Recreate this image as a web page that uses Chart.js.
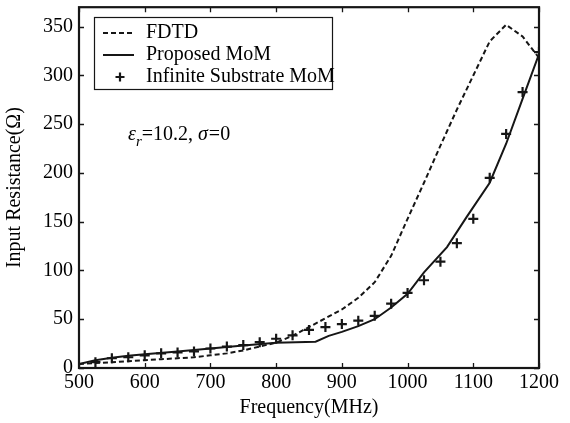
<!DOCTYPE html>
<html>
<head>
<meta charset="utf-8">
<script src="https://cdn.jsdelivr.net/npm/chart.js@4.4.1/dist/chart.umd.min.js"></script>
<style>
    html, body { margin: 0; padding: 0; background: #fff; }
    #wrap { width: 570px; height: 423px; }
</style>
</head>
<body>
<div id="wrap"><canvas id="chart" width="570" height="423"></canvas></div>
<script>
// FDTD result (dashed)
const fdtdFreq = [500, 525, 550, 575, 600, 625, 650, 675, 700, 725, 750, 775, 800, 825, 850, 875, 900, 925, 950, 975, 1000, 1025, 1050, 1075, 1100, 1125, 1150, 1175, 1200];
const fdtdValues = [4, 5, 6, 7, 8, 9, 10, 11, 13, 15, 18, 22, 26, 33, 42, 51, 60, 72, 88, 115, 153, 190, 228, 265, 300, 335, 352, 340, 318];

// Proposed MoM (solid)
const momFreq = [500, 525, 550, 575, 600, 650, 700, 750, 800, 830, 860, 880, 900, 925, 950, 975, 1000, 1025, 1060, 1090, 1125, 1150, 1175, 1200];
const momValues = [4, 8, 10.5, 12.5, 14, 17, 20, 23, 26, 26.5, 27, 33, 37, 43, 50, 62, 76, 98, 124, 155, 190, 230, 276, 322];

// Infinite substrate MoM (plus markers)
const infFreq = [525, 550, 575, 600, 625, 650, 675, 700, 725, 750, 775, 800, 825, 850, 875, 900, 925, 950, 975, 1000, 1025, 1050, 1075, 1100, 1125, 1150, 1175, 1200];
const infValues = [6, 10, 11, 13, 15, 16, 17, 20, 22, 23.5, 26.5, 30, 33.5, 39, 42, 45, 48.5, 53.5, 66, 77, 90, 109, 128, 153, 195, 240, 283, 324];

const xTicks = [500, 600, 700, 800, 900, 1000, 1100, 1200];
const yTicks = [0, 50, 100, 150, 200, 250, 300, 350];
const legendLabels = ['FDTD', 'Proposed MoM', 'Infinite Substrate MoM'];

const FONT = "'Liberation Serif', 'Times New Roman', serif";
const INK = '#161616';

function toPoints(xs, ys) {
    return xs.map((x, i) => ({ x: x, y: ys[i] }));
}

// Box, inward ticks, legend and the text note
const decorPlugin = {
    id: 'decor',
    afterDraw(chart) {
        const ctx = chart.ctx;
        const area = chart.chartArea;
        const xs = chart.scales.x;
        const ys = chart.scales.y;
        const tick = 5;

        ctx.save();
        ctx.strokeStyle = INK;
        ctx.lineWidth = 1.3;
        ctx.beginPath();
        xTicks.forEach(v => {
            const px = Math.round(xs.getPixelForValue(v)) + 0.5;
            ctx.moveTo(px, area.bottom); ctx.lineTo(px, area.bottom - tick);
            ctx.moveTo(px, area.top); ctx.lineTo(px, area.top + tick);
        });
        yTicks.forEach(v => {
            const py = Math.round(ys.getPixelForValue(v)) + 0.5;
            ctx.moveTo(area.left, py); ctx.lineTo(area.left + tick, py);
            ctx.moveTo(area.right, py); ctx.lineTo(area.right - tick, py);
        });
        ctx.stroke();

        ctx.lineWidth = 2.2;
        ctx.strokeRect(area.left, area.top, area.right - area.left, area.bottom - area.top);

        // legend
        const lx = 94, ly = 17, lw = 238, lh = 72;
        ctx.fillStyle = '#fff';
        ctx.fillRect(lx, ly, lw, lh);
        ctx.lineWidth = 1.2;
        ctx.strokeRect(lx + 0.5, ly + 0.5, lw, lh);

        const rows = [33, 55, 77];
        ctx.lineWidth = 2;
        ctx.setLineDash([5, 3]);
        ctx.beginPath(); ctx.moveTo(103, rows[0]); ctx.lineTo(134, rows[0]); ctx.stroke();
        ctx.setLineDash([]);
        ctx.lineWidth = 2;
        ctx.beginPath(); ctx.moveTo(103, rows[1]); ctx.lineTo(134, rows[1]); ctx.stroke();
        ctx.lineWidth = 2.2;
        ctx.beginPath();
        ctx.moveTo(115.5, rows[2]); ctx.lineTo(124.5, rows[2]);
        ctx.moveTo(120, rows[2] - 4.5); ctx.lineTo(120, rows[2] + 4.5);
        ctx.stroke();

        ctx.fillStyle = '#000';
        ctx.font = '20px ' + FONT;
        ctx.textBaseline = 'middle';
        ctx.textAlign = 'left';
        legendLabels.forEach((t, i) => ctx.fillText(t, 146, rows[i]));

        // epsilon_r = 10.2, sigma = 0
        ctx.textBaseline = 'alphabetic';
        let x = 128;
        const base = 140;
        ctx.font = 'italic 20px ' + FONT;
        ctx.fillText('\u03b5', x, base);
        x += ctx.measureText('\u03b5').width;
        ctx.font = 'italic 15px ' + FONT;
        ctx.fillText('r', x, base + 6);
        x += ctx.measureText('r').width;
        ctx.font = '20px ' + FONT;
        ctx.fillText('=10.2, ', x, base);
        x += ctx.measureText('=10.2, ').width;
        ctx.font = 'italic 20px ' + FONT;
        ctx.fillText('\u03c3', x, base);
        x += ctx.measureText('\u03c3').width + 1;
        ctx.font = '20px ' + FONT;
        ctx.fillText('=0', x, base);
        ctx.restore();
    }
};

const ctx = document.getElementById('chart').getContext('2d');
new Chart(ctx, {
    type: 'line',
    data: {
        datasets: [
            {
                label: legendLabels[0],
                data: toPoints(fdtdFreq, fdtdValues),
                borderColor: INK,
                borderWidth: 2,
                borderDash: [5, 3],
                pointRadius: 0,
                tension: 0,
                fill: false
            },
            {
                label: legendLabels[1],
                data: toPoints(momFreq, momValues),
                borderColor: INK,
                borderWidth: 2,
                pointRadius: 0,
                tension: 0,
                fill: false
            },
            {
                label: legendLabels[2],
                data: toPoints(infFreq, infValues),
                showLine: false,
                borderColor: INK,
                pointStyle: 'cross',
                pointRadius: 5,
                pointBorderWidth: 2.2,
                pointBorderColor: INK
            }
        ]
    },
    options: {
        responsive: false,
        animation: false,
        devicePixelRatio: 1,
        layout: { padding: { left: 0, top: 6, right: 31, bottom: 0 } },
        plugins: {
            legend: { display: false },
            tooltip: { enabled: false }
        },
        scales: {
            x: {
                type: 'linear',
                min: 500,
                max: 1200,
                grid: { display: false, drawTicks: false },
                border: { display: false },
                afterBuildTicks: scale => { scale.ticks = xTicks.map(v => ({ value: v })); },
                afterFit: scale => { scale.height = 55; scale.paddingLeft = 0; scale.paddingRight = 0; },
                ticks: {
                    autoSkip: false,
                    maxRotation: 0,
                    padding: 3,
                    color: '#000',
                    font: { family: FONT, size: 20 },
                    callback: v => String(v)
                },
                title: {
                    display: true,
                    text: 'Frequency(MHz)',
                    color: '#000',
                    padding: { top: 0, bottom: 3 },
                    font: { family: FONT, size: 20 }
                }
            },
            y: {
                type: 'linear',
                min: 0,
                max: 370,
                grid: { display: false, drawTicks: false },
                border: { display: false },
                afterBuildTicks: scale => { scale.ticks = yTicks.map(v => ({ value: v })); },
                afterFit: scale => { scale.width = 79; scale.paddingTop = 0; scale.paddingBottom = 0; },
                ticks: {
                    autoSkip: false,
                    padding: 6,
                    color: '#000',
                    font: { family: FONT, size: 20 },
                    callback: v => String(v)
                },
                title: {
                    display: true,
                    text: 'Input Resistance(\u03a9)',
                    color: '#000',
                    padding: { top: 3, bottom: 0 },
                    font: { family: FONT, size: 20 }
                }
            }
        }
    },
    plugins: [decorPlugin]
});
</script>
</body>
</html>
